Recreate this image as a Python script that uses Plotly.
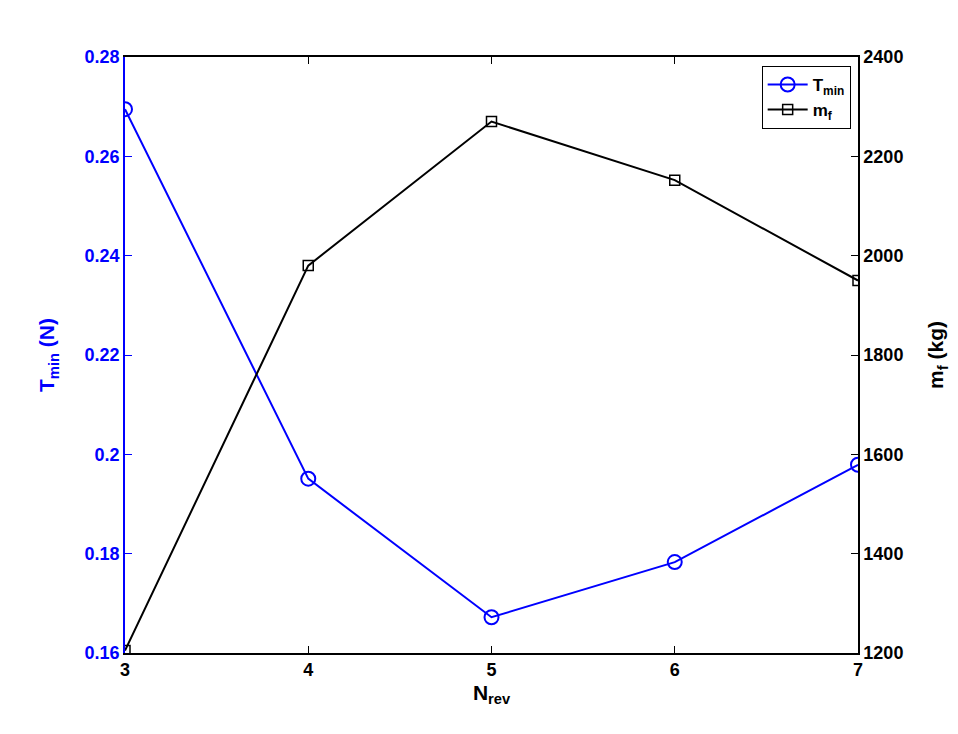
import plotly.graph_objects as go

# -------------------------------------------------
# Data
# -------------------------------------------------

n_rev = [3, 4, 5, 6, 7]
t_min = [0.2695, 0.1951, 0.1672, 0.1783, 0.1979]
m_f = [1205, 1980, 2270, 2152, 1950]

x_ticks = [3, 4, 5, 6, 7]
t_ticks = [0.16, 0.18, 0.2, 0.22, 0.24, 0.26, 0.28]
t_tick_text = ["0.16", "0.18", "0.2", "0.22", "0.24", "0.26", "0.28"]
m_ticks = [1200, 1400, 1600, 1800, 2000, 2200, 2400]

BLUE = "#0000ff"
FONT = "Liberation Sans, Arial, sans-serif"

fig = go.Figure()

fig.add_trace(go.Scatter(
    x=n_rev,
    y=t_min,
    name="<b>T<sub>min</sub></b>",
    mode="lines+markers",
    line=dict(color=BLUE, width=2),
    marker=dict(symbol="circle-open", size=14, color=BLUE, line=dict(width=2)),
    yaxis="y"
))

fig.add_trace(go.Scatter(
    x=n_rev,
    y=m_f,
    name="<b>m<sub>f</sub></b>",
    mode="lines+markers",
    line=dict(color="black", width=2),
    marker=dict(symbol="square-open", size=10, color="black", line=dict(width=1.5)),
    yaxis="y2"
))

fig.update_layout(
    width=958,
    height=734,
    margin=dict(l=117, r=108, t=49, b=89),
    paper_bgcolor="white",
    plot_bgcolor="white",
    font=dict(family=FONT, size=18, color="black"),
    showlegend=True,
    legend=dict(
        x=0.99,
        y=0.985,
        xanchor="right",
        yanchor="top",
        bgcolor="white",
        bordercolor="black",
        borderwidth=1,
        font=dict(size=17, color="black"),
        tracegroupgap=0,
        itemwidth=40
    ),
    xaxis=dict(
        range=[3, 7],
        tickmode="array",
        tickvals=x_ticks,
        ticktext=["<b>%d</b>" % v for v in x_ticks],
        ticks="inside",
        ticklen=7,
        tickcolor="black",
        showline=True,
        linecolor="black",
        linewidth=1.5,
        mirror="ticks",
        showgrid=False,
        zeroline=False,
        tickfont=dict(size=18, color="black"),
        title=dict(text="<b>N<sub>rev</sub></b>", font=dict(size=21), standoff=6)
    ),
    yaxis=dict(
        range=[0.16, 0.28],
        tickmode="array",
        tickvals=t_ticks,
        ticktext=["<b>%s</b>" % t for t in t_tick_text],
        ticks="inside",
        ticklen=7,
        tickcolor=BLUE,
        showline=True,
        linecolor=BLUE,
        linewidth=1.5,
        showgrid=False,
        zeroline=False,
        tickfont=dict(size=18, color=BLUE),
        title=dict(text="<b>T<sub>min</sub> (N)</b>", font=dict(size=21, color=BLUE), standoff=24)
    ),
    yaxis2=dict(
        range=[1200, 2400],
        overlaying="y",
        side="right",
        tickmode="array",
        tickvals=m_ticks,
        ticktext=["<b>%d</b>" % v for v in m_ticks],
        ticks="inside",
        ticklen=7,
        tickcolor="black",
        showline=True,
        linecolor="black",
        linewidth=1.5,
        showgrid=False,
        zeroline=False,
        tickfont=dict(size=18, color="black"),
        title=dict(text="<b>m<sub>f</sub> (kg)</b>", font=dict(size=21, color="black"), standoff=26)
    )
)

fig.write_html("out.html")
